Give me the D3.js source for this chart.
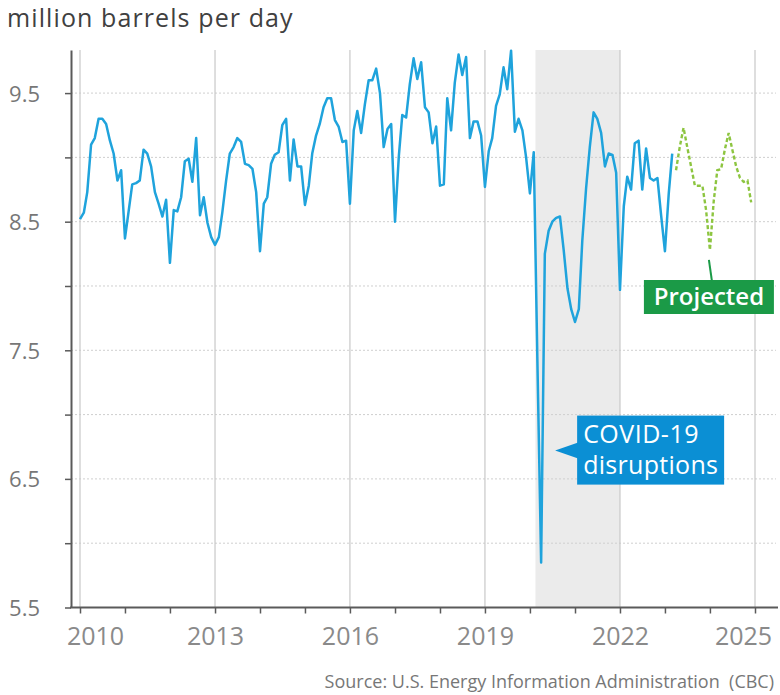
<!DOCTYPE html>
<html><head><meta charset="utf-8">
<script src="https://cdn.jsdelivr.net/npm/d3@7"></script>
<style>
body{margin:0;background:#fff}
svg{display:block}
text{font-family:"Open Sans",sans-serif}
</style>
</head><body>
<svg id="chart" width="780" height="695"></svg>
<script>
// ---- data (monthly, million barrels per day) ----
const actualStart = [2010, 0];
const actual = [
  8.52, 8.57, 8.73, 9.10, 9.15, 9.30, 9.30, 9.26, 9.13, 9.03, 8.82, 8.90,
  8.37, 8.59, 8.79, 8.80, 8.82, 9.06, 9.03, 8.93, 8.73, 8.64, 8.54, 8.67,
  8.18, 8.59, 8.58, 8.69, 8.97, 8.99, 8.81, 9.15, 8.55, 8.69, 8.49, 8.38,
  8.32, 8.38, 8.57, 8.82, 9.03, 9.08, 9.15, 9.12, 8.95, 8.94, 8.91, 8.73,
  8.27, 8.64, 8.69, 8.95, 9.02, 9.04, 9.25, 9.30, 8.82, 9.14, 8.93, 8.93,
  8.63, 8.78, 9.03, 9.17, 9.26, 9.39, 9.46, 9.46, 9.29, 9.24, 9.12, 9.13,
  8.64, 9.21, 9.36, 9.19, 9.41, 9.60, 9.60, 9.69, 9.50, 9.08, 9.22, 9.26,
  8.50, 9.01, 9.33, 9.31, 9.57, 9.77, 9.61, 9.74, 9.39, 9.35, 9.11, 9.24,
  8.78, 8.79, 9.46, 9.21, 9.58, 9.80, 9.64, 9.78, 9.15, 9.28, 9.28, 9.17,
  8.77, 9.05, 9.15, 9.40, 9.49, 9.70, 9.53, 9.83, 9.20, 9.30, 9.21, 9.00,
  8.72, 9.04, 7.45, 5.85, 8.25, 8.43, 8.50, 8.53, 8.54, 8.28, 7.98, 7.82,
  7.72, 7.82, 8.35, 8.76, 9.08, 9.35, 9.30, 9.19, 8.93, 9.03, 9.02, 8.88,
  7.97, 8.62, 8.85, 8.75, 9.11, 9.13, 8.75, 9.07, 8.84, 8.82, 8.84, 8.55,
  8.27, 8.72, 9.03
];
const projectedStart = [2023, 3];
const projected = [
  8.90, 9.08, 9.23, 9.08, 8.93, 8.78, 8.78, 8.78, 8.59,
  8.28, 8.66, 8.90, 8.91, 9.06, 9.19, 9.06, 8.93, 8.84, 8.81, 8.82, 8.65
];
const yTickValues = [5.5, 6.0, 6.5, 7.0, 7.5, 8.0, 8.5, 9.0, 9.5];
const yLabelValues = [5.5, 6.5, 7.5, 8.5, 9.5];
const xTickYears = d3.range(2010, 2026);
const xLabelYears = [2010, 2013, 2016, 2019, 2022, 2025];
const covidPeriod = [[2020, 1, 15], [2022, 0, 1]];
const titleText = "million barrels per day";
const sourceText = "Source: U.S. Energy Information Administration  (CBC)";
const covidLabel = ["COVID-19", "disruptions"];
const projectedLabel = "Projected";

// ---- build ----
const svg = d3.select("#chart");
const m = {left: 71, top: 50, right: 778, bottom: 607.5};

const x = d3.scaleTime()
  .domain([new Date(2010, 0, 1), new Date(2025, 0, 1)])
  .range([80, 755]);
const y = d3.scaleLinear()
  .domain([5.5, 9.835])
  .range([m.bottom, m.top]);

const toSeries = (start, vals) => vals.map((v, i) => ({
  date: d3.timeMonth.offset(new Date(start[0], start[1], 1), i), value: v
}));
const actualData = toSeries(actualStart, actual);
const projData = toSeries(projectedStart, projected);

// shading
const c0 = new Date(...covidPeriod[0]), c1 = new Date(...covidPeriod[1]);
svg.append("rect")
  .attr("x", x(c0)).attr("y", m.top)
  .attr("width", x(c1) - x(c0)).attr("height", m.bottom - m.top)
  .attr("fill", "#ebebeb");

// horizontal dotted grid
svg.append("g").selectAll("line")
  .data(yTickValues.filter(v => v > 5.5))
  .join("line")
  .attr("x1", m.left).attr("x2", 776)
  .attr("y1", d => y(d)).attr("y2", d => y(d))
  .attr("stroke", "#cfcfcf").attr("stroke-width", 1)
  .attr("stroke-dasharray", "2,2");

// vertical grid
svg.append("g").selectAll("line")
  .data(xLabelYears)
  .join("line")
  .attr("x1", d => x(new Date(d, 0, 1))).attr("x2", d => x(new Date(d, 0, 1)))
  .attr("y1", m.top).attr("y2", m.bottom)
  .attr("stroke", "#c8c8c8").attr("stroke-width", 1.2);

// lines
const line = d3.line().x(d => x(d.date)).y(d => y(d.value)).curve(d3.curveLinear);
svg.append("path").datum(actualData)
  .attr("d", line).attr("fill", "none")
  .attr("stroke", "#1fa3dc").attr("stroke-width", 2.5)
  .attr("stroke-linejoin", "round");
svg.append("path").datum(projData)
  .attr("d", line).attr("fill", "none")
  .attr("stroke", "#8dc540").attr("stroke-width", 2.4)
  .attr("stroke-dasharray", "4,2.5");

// y axis
const yAxis = d3.axisLeft(y)
  .tickValues(yTickValues)
  .tickSize(6).tickSizeOuter(0).tickPadding(25)
  .tickFormat(v => yLabelValues.includes(v) ? d3.format(".1f")(v) : "");
const gy = svg.append("g").attr("transform", `translate(${m.left},0)`).call(yAxis);
gy.select(".domain").attr("stroke", "#5a5a5a").attr("stroke-width", 2);
gy.selectAll(".tick line").attr("stroke", "#5a5a5a").attr("stroke-width", 1.5);
gy.selectAll(".tick text")
  .attr("fill", "#777").style("font-size", "22px")
  .style("font-family", "'Open Sans', sans-serif").attr("dy", "0.36em");

// x axis
const xAxis = d3.axisBottom(x)
  .tickValues(xTickYears.map(yr => new Date(yr, 0, 1)))
  .tickSize(6).tickSizeOuter(0).tickPadding(14)
  .tickFormat(d => xLabelYears.includes(d.getFullYear()) ? d.getFullYear() : "");
const gx = svg.append("g").attr("transform", `translate(0,${m.bottom})`).call(xAxis);
gx.select(".domain").remove();
gx.append("line").attr("x1", m.left - 1).attr("x2", m.right)
  .attr("stroke", "#5a5a5a").attr("stroke-width", 2);
gx.selectAll(".tick line").attr("stroke", "#5a5a5a").attr("stroke-width", 1.5);
gx.selectAll(".tick text")
  .attr("fill", "#8a8a8a").style("font-size", "25px")
  .style("font-family", "'Open Sans', sans-serif")
  .attr("dx", d => d.getFullYear() === 2010 ? 15 : d.getFullYear() === 2025 ? -12 : 0);

// title
svg.append("text").attr("x", 7).attr("y", 27)
  .attr("fill", "#404040").style("font-size", "25px")
  .style("letter-spacing", "1.1px")
  .text(titleText);

// source
svg.append("text").attr("x", 774).attr("y", 688)
  .attr("text-anchor", "end").attr("fill", "#777")
  .style("font-size", "18px").style("white-space", "pre")
  .text(sourceText);

// COVID annotation
const covidDip = actualData[123];
const cx = x(covidDip.date), cy = y(6.72);
const bx = cx + 36, by = cy - 35, bw = 147, bh = 69;
svg.append("path")
  .attr("d", `M${cx + 14},${cy} L${bx + 1},${cy - 8} L${bx + 1},${cy + 8} Z`)
  .attr("fill", "#0b8fd4");
svg.append("rect").attr("x", bx).attr("y", by).attr("width", bw).attr("height", bh)
  .attr("fill", "#0b8fd4");
svg.append("text").attr("x", bx + 6).attr("y", by + 27)
  .attr("fill", "#fff").style("font-size", "25px").style("letter-spacing", "0.5px")
  .text(covidLabel[0]);
svg.append("text").attr("x", bx + 6).attr("y", by + 58)
  .attr("fill", "#fff").style("font-size", "25px").style("letter-spacing", "0.3px")
  .text(covidLabel[1]);

// Projected annotation
const pDip = projData[9];
const px = x(pDip.date), py = y(pDip.value);
const pbx = px - 66, pby = 280, pbw = 130, pbh = 34;
svg.append("line").attr("x1", px - 1).attr("y1", py + 10)
  .attr("x2", px + 2).attr("y2", pby + 1)
  .attr("stroke", "#1b9a47").attr("stroke-width", 2);
svg.append("rect").attr("x", pbx).attr("y", pby).attr("width", pbw).attr("height", pbh)
  .attr("fill", "#1b9a47");
svg.append("text").attr("x", pbx + pbw / 2).attr("y", pby + 25)
  .attr("text-anchor", "middle")
  .attr("fill", "#fff").style("font-size", "24px").style("font-weight", "600")
  .text(projectedLabel);
</script>
</body></html>
